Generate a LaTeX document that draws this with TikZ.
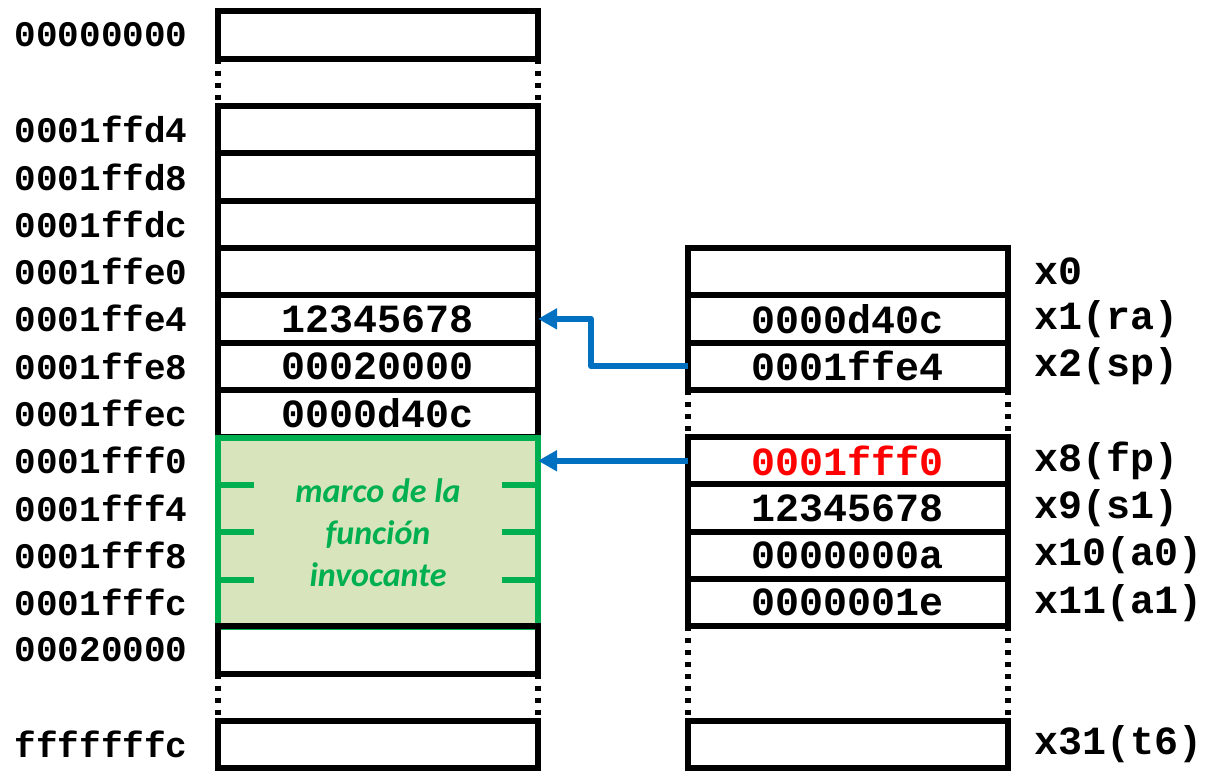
\documentclass[tikz,border=0pt]{standalone}
\usepackage{fontspec}
\setmonofont{Liberation Mono}
\newfontfamily\calibri{Carlito}
\usetikzlibrary{positioning,calc,arrows.meta}
\definecolor{ptrblue}{HTML}{0070C0}
\definecolor{framegreen}{HTML}{00B050}
\definecolor{framefill}{HTML}{D8E4BC}
\tikzset{
  cell/.style={draw,line width=3pt,minimum width=160pt,minimum height=23.65pt,
    inner sep=0pt,outer sep=0pt,font=\fontsize{20}{24}\selectfont\ttfamily\bfseries},
  addr/.style={inner sep=0pt,font=\fontsize{18}{22}\selectfont\ttfamily\bfseries},
  reg/.style={inner sep=0pt,font=\fontsize{20}{24}\selectfont\ttfamily\bfseries},
  gapline/.style={line width=3pt,dash pattern=on 2.5pt off 3.5pt},
  callerframe/.style={draw=framegreen,fill=framefill,line width=3pt,minimum width=160pt,
    minimum height=94.6pt,inner sep=0pt,outer sep=0pt,text=framegreen,align=center,
    font=\fontsize{17}{21}\selectfont\calibri\bfseries\itshape},
  framemark/.style={draw=framegreen,line width=3pt},
  ptr/.style={draw=ptrblue,line width=3pt,line join=round,-{Triangle[length=9.5pt,width=10pt]}}
}
\begin{document}
\begin{tikzpicture}[x=0.5pt,y=-0.5pt]
  \useasboundingbox (0,0) rectangle (1213,771);
  % memoria
  \node[cell] (mtop) at (378,35.05) {};
  \node[addr,left=15pt of mtop] (ltop) {00000000};
  \foreach \a/\v [count=\i from 0] in {0001ffd4/,0001ffd8/,0001ffdc/,0001ffe0/,
      0001ffe4/12345678,0001ffe8/00020000,0001ffec/0000d40c} {
    \node[cell] (m\i) at (378,{129.65+47.3*\i}) {\v};
    \node[addr,left=15pt of m\i] (l\i) {\a};
  }
  \node[callerframe] (caller) at (378,532.4) {marco de la\\función\\invocante};
  \foreach \k in {1,2,3} {
    \draw[framemark] ($(caller.north west)+(0,47.3*\k)$) -- ++(36,0);
    \draw[framemark] ($(caller.north east)+(0,47.3*\k)$) -- ++(-36,0);
  }
  \foreach \a [count=\i from 7] in {0001fff0,0001fff4,0001fff8,0001fffc}
    \node[addr,anchor=east] (l\i) at (188,{129.65+47.3*\i}) {\a};
  \node[cell] (m11) at (378,649.95) {};
  \node[addr,left=15pt of m11] (l11) {00020000};
  \node[cell] (mend) at (378,744.55) {};
  \node[addr,left=15pt of mend] (lend) {fffffffc};
  \draw[gapline] (mtop.south west) -- (m0.north west);
  \draw[gapline] (mtop.south east) -- (m0.north east);
  \draw[gapline] (m11.south west) -- (mend.north west);
  \draw[gapline] (m11.south east) -- (mend.north east);
  % registros
  \foreach \n/\v [count=\i from 3] in {x0/,x1(ra)/0000d40c,x2(sp)/0001ffe4} {
    \node[cell] (r\i) at (848,{129.65+47.3*\i}) {\v};
    \node[reg,right=13pt of r\i] (n\i) {\n};
  }
  \foreach \n/\v [count=\i from 7] in {x8(fp)/\textcolor{red}{0001fff0},x9(s1)/12345678,
      x10(a0)/0000000a,x11(a1)/0000001e} {
    \node[cell] (r\i) at (848,{129.65+47.3*\i}) {\v};
    \node[reg,right=13pt of r\i] (n\i) {\n};
  }
  \node[cell] (r13) at (848,744.55) {};
  \node[reg,right=13pt of r13] (n13) {x31(t6)};
  \draw[gapline] (r5.south west) -- (r7.north west);
  \draw[gapline] (r5.south east) -- (r7.north east);
  \draw[gapline] (r10.south west) -- (r13.north west);
  \draw[gapline] (r10.south east) -- (r13.north east);
  % punteros
  \draw[ptr] (r5.west) -- ++(-97,0) |- (m4.east);
  \draw[ptr] (r7.west) -- (r7.west -| caller.east);
\end{tikzpicture}
\end{document}
